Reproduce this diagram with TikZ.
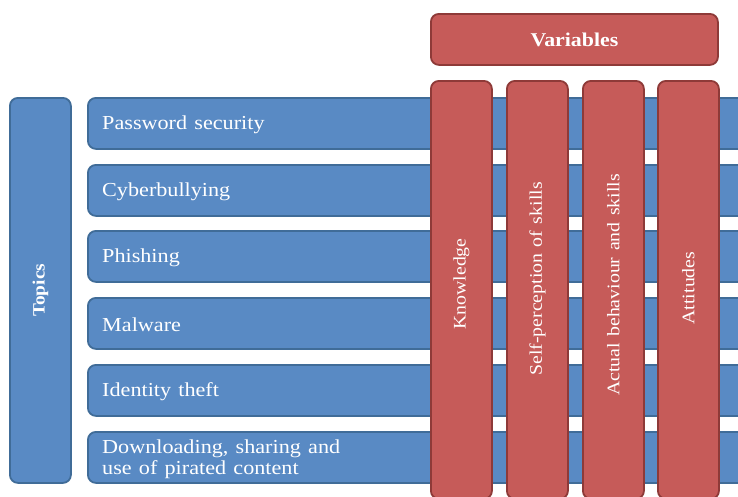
\documentclass[tikz,border=0pt]{standalone}
\usepackage{fontspec}
\setmainfont{Liberation Serif}
\newfontfamily\barfont[FakeStretch=1.12,WordSpace=2]{Liberation Serif}
\newfontfamily\colfont[FakeStretch=1.12,WordSpace=1.3]{Liberation Serif}
\definecolor{bluefill}{RGB}{89,138,196}
\definecolor{bluedraw}{RGB}{64,108,152}
\definecolor{redfill}{RGB}{198,91,89}
\definecolor{reddraw}{RGB}{142,58,56}
\tikzset{
  bluebox/.style={draw=bluedraw, fill=bluefill, line width=1.8pt, rounded corners=8pt, inner sep=0pt, anchor=north west},
  redbox/.style={draw=reddraw, fill=redfill, line width=1.8pt, rounded corners=8pt, inner sep=0pt, anchor=north west},
  bartext/.style={text=white, anchor=west, inner sep=0pt, align=left, font=\barfont\fontsize{19.8}{21.5}\selectfont},
  coltext/.style={text=white, rotate=90, inner sep=0pt, font=\colfont\fontsize{17.7}{20}\selectfont},
  headtext/.style={text=white, inner sep=0pt, font=\barfont\bfseries\fontsize{19.5}{21}\selectfont}
}
\begin{document}
\begin{tikzpicture}[x=1pt,y=-1pt]
\useasboundingbox (0,0) rectangle (738,496);
\clip (0,0) rectangle (738,496);
% topics
\node[bluebox, minimum width=61pt, minimum height=385pt] (topics) at (9,97) {};
\node[headtext, rotate=90, font=\barfont\bfseries\fontsize{17.3}{19}\selectfont] (topicslabel) at (topics.center) {Topics};
% bars
\foreach \i/\y in {1/97,2/164,3/230,4/297,5/364,6/431}{
  \node[bluebox, minimum width=700pt, minimum height=51pt] (bar\i) at (87,\y) {};
}
\node[bartext] (t1) at ([xshift=15pt,yshift=-1pt]bar1.west) {Password security};
\node[bartext] (t2) at ([xshift=15pt,yshift=-1pt]bar2.west) {Cyberbullying};
\node[bartext] (t3) at ([xshift=15pt,yshift=-1pt]bar3.west) {Phishing};
\node[bartext] (t4) at ([xshift=15pt,yshift=-1pt]bar4.west) {Malware};
\node[bartext] (t5) at ([xshift=15pt,yshift=-1pt]bar5.west) {Identity theft};
\node[bartext] (t6) at ([xshift=15pt,yshift=-2pt]bar6.west) {Downloading, sharing and\\use of pirated content};
% variables
\node[redbox, minimum width=287pt, minimum height=51pt] (vars) at (430,13) {};
\node[headtext] (varslabel) at (vars.center) {Variables};
\foreach \i/\x in {1/430,2/506,3/582,4/657}{
  \node[redbox, minimum width=61pt, minimum height=418pt] (col\i) at (\x,80) {};
}
\node[coltext] (c1) at (col1.center |- 0,284) {Knowledge};
\node[coltext] (c2) at (col2.center |- 0,279) {Self-perception of skills};
\node[coltext] (c3) at (col3.center |- 0,285) {Actual behaviour and skills};
\node[coltext] (c4) at (col4.center |- 0,288) {Attitudes};
\end{tikzpicture}
\end{document}
